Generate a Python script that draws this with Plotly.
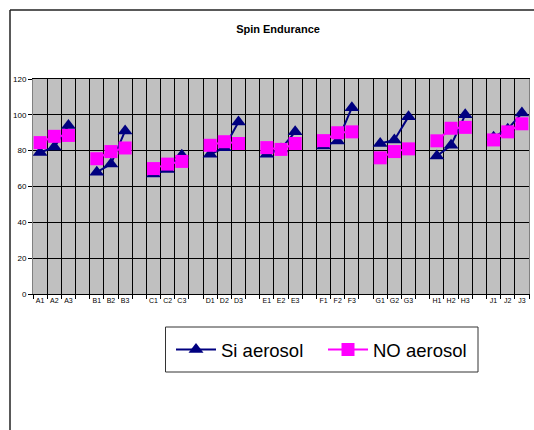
import plotly.graph_objects as go

groups = ["A", "B", "C", "D", "E", "F", "G", "H", "J"]
labels = [f"{g}{i}" for g in groups for i in (1, 2, 3)]

si_aerosol = [79, 82, 94,
              68, 72.5, 91,
              67, 69.5, 77.5,
              78, 81.6, 96,
              78, 81, 90.5,
              82.6, 85.4, 104,
              84, 86, 99,
              77, 83, 100,
              87.5, 92, 101]

no_aerosol = [84.5, 88, 88.5,
              75.5, 79.5, 81.5,
              70, 72.5, 74,
              83, 85, 84,
              81.7, 80.7, 84,
              85.6, 90, 90.5,
              76, 79.5, 81,
              85.5, 92.5, 93,
              86, 90.5, 95]

# category positions with an empty slot between groups
si_vals, no_vals, xs = [], [], []
for gi in range(len(groups)):
    for i in range(3):
        k = gi * 3 + i
        xs.append(gi * 4 + i)
        si_vals.append(si_aerosol[k])
        no_vals.append(no_aerosol[k])
    if gi < len(groups) - 1:
        xs.append(gi * 4 + 3)
        si_vals.append(None)
        no_vals.append(None)

tick_positions = [gi * 4 + i for gi in range(len(groups)) for i in range(3)]

fig = go.Figure()
fig.add_trace(go.Scatter(
    x=xs, y=si_vals, name="Si aerosol", mode="lines+markers",
    line=dict(color="#000080", width=2),
    marker=dict(symbol="triangle-up", size=13, color="#000080"),
    connectgaps=False,
))
fig.add_trace(go.Scatter(
    x=xs, y=no_vals, name="NO aerosol", mode="lines+markers",
    line=dict(color="#FF00FF", width=2),
    marker=dict(symbol="square", size=13, color="#FF00FF"),
    connectgaps=False,
))

W, H = 534, 430
L, T, PR, PB = 33, 79, 529, 294
R, B = W - PR, H - PB
pw, ph = PR - L, PB - T


def px(x):
    return (x - L) / pw


def py(y):
    return (PB - y) / ph


fig.update_layout(
    width=W, height=H,
    margin=dict(l=L, r=R, t=T, b=B, autoexpand=False),
    paper_bgcolor="white",
    plot_bgcolor="#C0C0C0",
    font=dict(family="Liberation Sans, Arial, sans-serif", color="black"),
    title=dict(text="<b>Spin Endurance</b>", x=278 / W, xanchor="center",
               y=1 - 29 / H, yanchor="middle", xref="container", yref="container",
               font=dict(size=11, color="black")),
    showlegend=True,
    legend=dict(orientation="h", x=px(171), y=py(350),
                xanchor="left", yanchor="middle",
                borderwidth=0, bgcolor="rgba(0,0,0,0)",
                font=dict(size=18.5, color="black"), itemwidth=40,
                entrywidth=97, entrywidthmode="pixels"),
    xaxis=dict(
        range=[-0.5, 34.5], tickmode="array", tickvals=tick_positions, ticktext=labels,
        showgrid=False, ticks="", tickfont=dict(size=7), zeroline=False, automargin=False,
        showline=True, linecolor="black", linewidth=1, mirror=True,
        minor=dict(tickmode="linear", tick0=-0.5, dtick=1, showgrid=True,
                   gridcolor="black", gridwidth=1, ticks="outside", ticklen=4,
                   tickcolor="black"),
    ),
    yaxis=dict(
        range=[0, 120], dtick=20, tick0=0, showgrid=True, gridcolor="black", gridwidth=1,
        ticks="outside", ticklen=4, tickcolor="black", tickfont=dict(size=8), automargin=False,
        zeroline=False, showline=True, linecolor="#808080", linewidth=1, mirror=True,
    ),
)

# outer chart frame (top and left edges visible)
fig.add_shape(type="line", xref="paper", yref="paper",
              x0=px(10), x1=px(560), y0=py(10), y1=py(10),
              line=dict(color="#222222", width=1.5))
fig.add_shape(type="line", xref="paper", yref="paper",
              x0=px(10), x1=px(10), y0=py(10), y1=py(460),
              line=dict(color="#222222", width=1.5))
# legend box
fig.add_shape(type="rect", xref="paper", yref="paper",
              x0=px(165.5), x1=px(478), y0=py(372), y1=py(327),
              line=dict(color="#333333", width=1), fillcolor="white",
              layer="below")

fig.write_html("out.html",
               config={"displayModeBar": False},
               post_script="document.body.style.margin='0';"
                           "document.body.style.overflow='hidden';"
                           "document.documentElement.style.overflow='hidden';")
